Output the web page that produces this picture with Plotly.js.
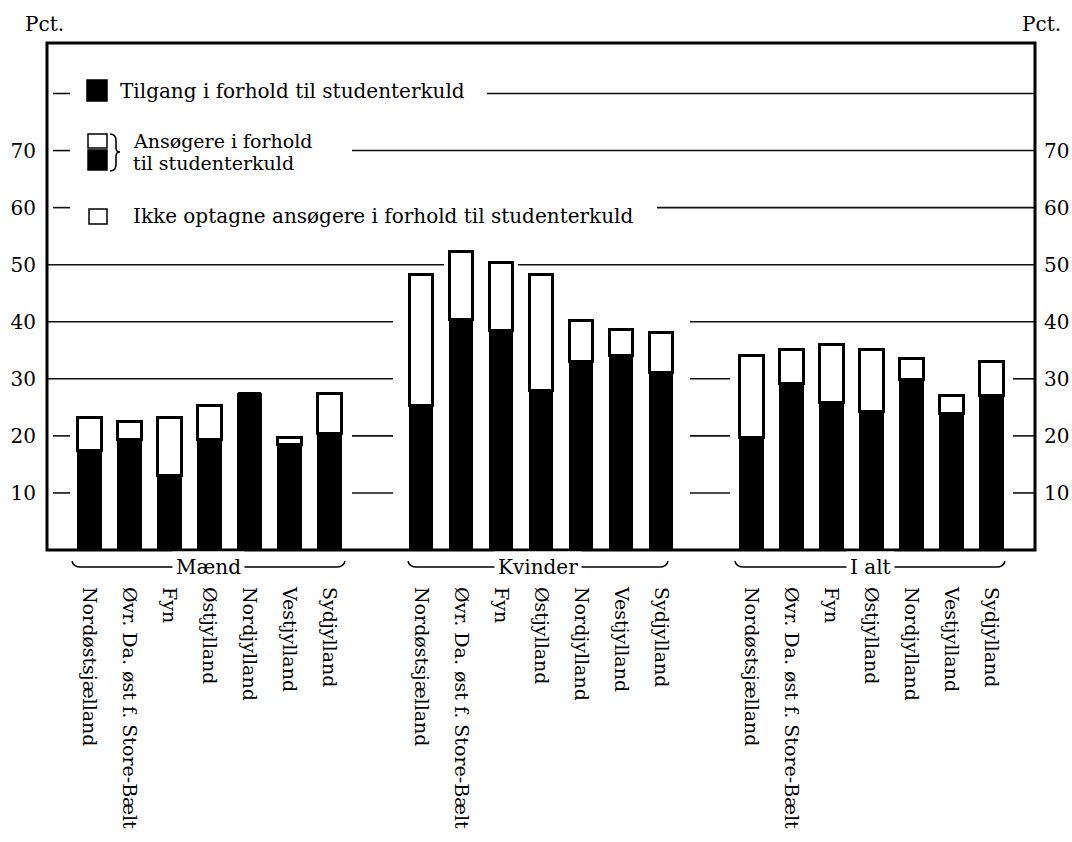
<!DOCTYPE html>
<html>
<head>
<meta charset="utf-8">
<script src="https://cdn.plot.ly/plotly-3.0.1.min.js"></script>
<style>body{margin:0;background:#fff}#chart{width:1072px;height:842px}</style>
</head>
<body>
<div id="chart"></div>
<script>
// ---- data ----
const groups = ["Mænd", "Kvinder", "I alt"];
const categories = ["Nordøstsjælland", "Øvr. Da. øst f. Store-Bælt", "Fyn", "Østjylland", "Nordjylland", "Vestjylland", "Sydjylland"];
// Tilgang i forhold til studenterkuld (black part), pct.
const tilgangMaend   = [17.4, 19.3, 13.1, 19.3, 27.4, 18.5, 20.4];
const tilgangKvinder = [25.3, 40.4, 38.4, 28.0, 33.1, 34.1, 31.1];
const tilgangIalt    = [19.8, 29.2, 25.8, 24.2, 29.9, 24.0, 27.0];
// Ansøgere i forhold til studenterkuld (whole bar), pct.
const ansogereMaend   = [23.3, 22.5, 23.3, 25.3, 27.4, 19.8, 27.4];
const ansogereKvinder = [48.3, 52.3, 50.3, 48.2, 40.3, 38.7, 38.1];
const ansogereIalt    = [34.0, 35.2, 36.1, 35.2, 33.6, 27.0, 33.0];
const yTicks = [10, 20, 30, 40, 50, 60, 70];

// ---- layout helpers ----
const groupStart = [0, 8.29, 16.55];
const tilgang = [tilgangMaend, tilgangKvinder, tilgangIalt];
const ansogere = [ansogereMaend, ansogereKvinder, ansogereIalt];

const xs = [], yBlack = [], yWhite = [], tickText = [];
groups.forEach((g, gi) => {
  categories.forEach((c, ci) => {
    xs.push(groupStart[gi] + ci);
    yBlack.push(tilgang[gi][ci]);
    yWhite.push(+(ansogere[gi][ci] - tilgang[gi][ci]).toFixed(2));
    tickText.push(c);
  });
});

const FONT = "DejaVu Serif, Liberation Serif, serif";
const L = 47, R = 1035, T = 43, B = 550;
const X = px => (px - L) / (R - L);
const Y = py => (B - py) / (B - T);

const traces = [
  {type: "bar", x: xs, y: yBlack, width: 0.58, marker: {color: "#000", line: {color: "#000", width: 1}},
   hoverinfo: "skip", showlegend: false},
  {type: "bar", x: xs, y: yWhite, width: 0.58, marker: {color: "#fff", line: {color: "#000", width: 3}},
   hoverinfo: "skip", showlegend: false},
  {type: "scatter", x: [], y: [], yaxis: "y2", showlegend: false, hoverinfo: "skip"}
];

const shapes = [];
const seg = (y, a, b) => shapes.push({type: "line", xref: "paper", yref: "y", x0: X(a), x1: X(b), y0: y, y1: y,
  line: {color: "#111", width: 1.6}, layer: "below"});
seg(80, 53, 70); seg(80, 487, 1035);
seg(70, 53, 70); seg(70, 352, 1035);
seg(60, 53, 70); seg(60, 657, 1035);
seg(50, 47, 444); seg(50, 518, 1035);
seg(40, 47, 393); seg(40, 690, 1035);
seg(30, 47, 393); seg(30, 690, 730); seg(30, 1013, 1035);
seg(20, 53, 70); seg(20, 352, 393); seg(20, 690, 730); seg(20, 1013, 1035);
seg(10, 53, 70); seg(10, 352, 393); seg(10, 690, 730); seg(10, 1013, 1035);

// frame
shapes.push({type: "rect", xref: "paper", yref: "paper", x0: 0, x1: 1, y0: 0, y1: 1, line: {color: "#000", width: 3}});

// legend symbols
const rect = (x0, x1, y0, y1, fill) => shapes.push({type: "rect", xref: "paper", yref: "paper",
  x0: X(x0), x1: X(x1), y0: Y(y1), y1: Y(y0), fillcolor: fill, line: {color: "#000", width: 1.5}});
rect(87, 107, 80, 101, "#000");
rect(88, 107, 134, 148, "#fff");
rect(88, 107, 150, 170, "#000");
rect(89, 107, 209, 224, "#fff");
const P = (px, py) => X(px).toFixed(5) + "," + Y(py).toFixed(5);
shapes.push({type: "path", xref: "paper", yref: "paper", line: {color: "#000", width: 1.6},
  path: "M" + P(110, 134) + " Q" + P(116, 134) + " " + P(116, 141) + " L" + P(116, 148) +
        " Q" + P(116, 152) + " " + P(120, 152) + " Q" + P(116, 152) + " " + P(116, 156) +
        " L" + P(116, 164) + " Q" + P(116, 171) + " " + P(110, 171)});

// group braces below the axis
const braces = [[72, 345], [408, 668], [735, 1005]];
braces.forEach(([a, b]) => {
  shapes.push({type: "path", xref: "paper", yref: "paper", line: {color: "#000", width: 1.5},
    path: "M" + P(a, 561) + " Q" + P(a + 1, 567) + " " + P(a + 9, 567) + " L" + P(b - 9, 567) +
          " Q" + P(b - 1, 567) + " " + P(b, 561)});
});

const ann = [];
const txt = (text, px, py, size, anchor) => ann.push({text, xref: "paper", yref: "paper", x: X(px), y: Y(py),
  xanchor: anchor || "left", yanchor: "middle", showarrow: false, font: {family: FONT, size: size || 20, color: "#000"}});
txt("Tilgang i forhold til studenterkuld", 118, 91);
txt("Ansøgere i forhold", 131, 141, 19);
txt("til studenterkuld", 131, 163, 19);
txt("Ikke optagne ansøgere i forhold til studenterkuld", 131, 216);
txt("Pct.", 23, 24, 20);
txt("Pct.", 1020, 24, 20);
groups.forEach((g, gi) => {
  const c = (braces[gi][0] + braces[gi][1]) / 2;
  ann.push({text: g, xref: "paper", yref: "paper", x: X(c), y: Y(567), xanchor: "center", yanchor: "middle",
    showarrow: false, bgcolor: "#fff", borderpad: 3, font: {family: FONT, size: 20, color: "#000"}});
});

const layout = {
  width: 1072, height: 842,
  margin: {l: L, r: 1072 - R, t: T, b: 842 - B, pad: 0},
  paper_bgcolor: "#fff", plot_bgcolor: "#fff",
  barmode: "stack", showlegend: false,
  font: {family: FONT, color: "#000"},
  xaxis: {range: [-1.06, 23.64], tickmode: "array", tickvals: xs, ticktext: tickText, tickangle: 90,
    ticks: "", ticklabelstandoff: 36, showgrid: false, zeroline: false, showline: false,
    tickfont: {family: FONT, size: 19, color: "#000"}, fixedrange: true},
  yaxis: {range: [0, 88.85], tickmode: "array", tickvals: yTicks, ticks: "", ticklabelstandoff: 10,
    showgrid: false, zeroline: false, showline: false, tickfont: {family: FONT, size: 20, color: "#000"}},
  yaxis2: {range: [0, 88.85], overlaying: "y", side: "right", tickmode: "array", tickvals: yTicks, ticks: "",
    ticklabelstandoff: 8, showgrid: false, zeroline: false, showline: false,
    tickfont: {family: FONT, size: 20, color: "#000"}},
  shapes, annotations: ann
};
Plotly.newPlot("chart", traces, layout, {staticPlot: true, displayModeBar: false});
</script>
</body>
</html>
